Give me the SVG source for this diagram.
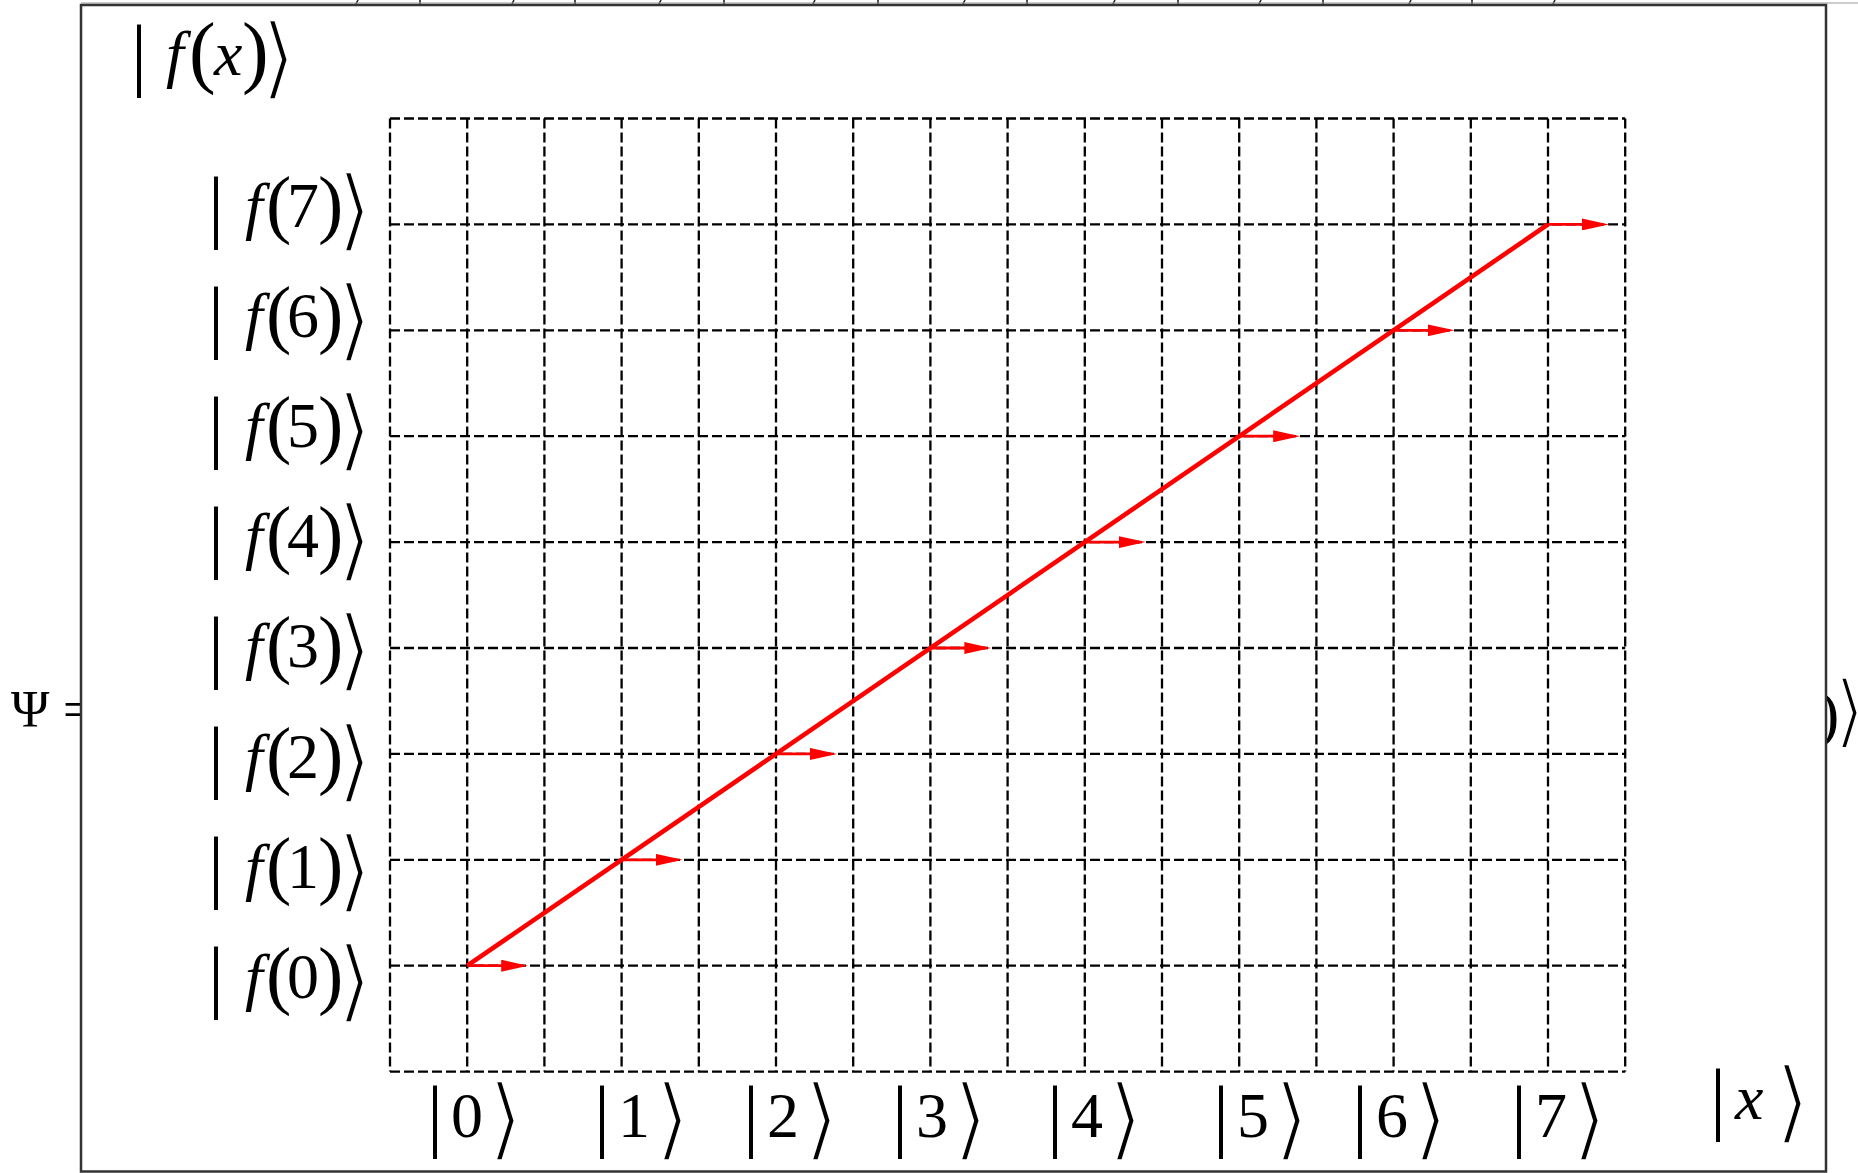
<svg xmlns="http://www.w3.org/2000/svg" width="1858" height="1173" viewBox="0 0 1858 1173">
<style>
.t{font-family:"Liberation Serif","Times New Roman",serif;fill:#000}
.i{font-style:italic}
.br{font-family:"Noto Sans CJK JP","DejaVu Sans",sans-serif;font-weight:300;stroke:#fff;stroke-width:3}
.g{stroke:#000;stroke-width:2.3;stroke-dasharray:10 4;fill:none}
.tick{stroke:#222;stroke-width:1.6}
.red{stroke:#ff0000;fill:none}
</style>
<defs>
<marker id="ah" markerWidth="27" markerHeight="12" refX="21" refY="6" orient="auto" markerUnits="userSpaceOnUse">
<path d="M0,0 L27,6 L0,12 Z" fill="#ff0000"/>
</marker>
</defs>
<rect x="0" y="0" width="1858" height="1173" fill="#fff"/>
<g id="psi">
<text class="t" font-size="52"><tspan x="11" y="727">Ψ</tspan><tspan x="63" y="727">=</tspan></text>
</g>
<g id="right-ket">
<text class="t" font-size="64"><tspan x="1818" y="735">)</tspan><tspan class="br" x="1833.5" y="738" font-size="80">⟩</tspan></text>
</g>
<g id="top-fragments">
<line class="tick" x1="358" y1="0" x2="356" y2="4"/>
<line class="tick" x1="420" y1="0" x2="420" y2="4"/>
<line class="tick" x1="514" y1="0" x2="512" y2="4"/>
<line class="tick" x1="575" y1="0" x2="575" y2="4"/>
<line class="tick" x1="661" y1="0" x2="659" y2="4"/>
<line class="tick" x1="724" y1="0" x2="724" y2="4"/>
<line class="tick" x1="815" y1="0" x2="813" y2="4"/>
<line class="tick" x1="878" y1="0" x2="878" y2="4"/>
<line class="tick" x1="965" y1="0" x2="963" y2="4"/>
<line class="tick" x1="1027" y1="0" x2="1027" y2="4"/>
<line class="tick" x1="1115" y1="0" x2="1113" y2="4"/>
<line class="tick" x1="1178" y1="0" x2="1178" y2="4"/>
<line class="tick" x1="1261" y1="0" x2="1259" y2="4"/>
<line class="tick" x1="1323" y1="0" x2="1323" y2="4"/>
<line class="tick" x1="1411" y1="0" x2="1409" y2="4"/>
<line class="tick" x1="1472" y1="0" x2="1472" y2="4"/>
<line class="tick" x1="1555" y1="0" x2="1553" y2="4"/>
<line x1="81" y1="3" x2="1858" y2="3" stroke="#999" stroke-width="1"/>
</g>
<g id="frame">
<rect x="81" y="5" width="1745" height="1166.5" fill="#fff" stroke="#333" stroke-width="2.5"/>
</g>
<g id="grid">
<path class="g" d="M390,118.5V1071.6M467.2,118.5V1071.6M544.4,118.5V1071.6M621.6,118.5V1071.6M698.8,118.5V1071.6M776,118.5V1071.6M853.2,118.5V1071.6M930.4,118.5V1071.6M1007.6,118.5V1071.6M1084.8,118.5V1071.6M1162,118.5V1071.6M1239.2,118.5V1071.6M1316.4,118.5V1071.6M1393.6,118.5V1071.6M1470.8,118.5V1071.6M1548,118.5V1071.6M1625.2,118.5V1071.6"/>
<path class="g" d="M390,118.5H1625.2M390,224.4H1625.2M390,330.3H1625.2M390,436.2H1625.2M390,542.1H1625.2M390,648H1625.2M390,753.9H1625.2M390,859.8H1625.2M390,965.7H1625.2M390,1071.6H1625.2"/>
</g>
<g id="connectors">
<line class="red" stroke-width="4.6" x1="467.2" y1="965.7" x2="1548" y2="224.4"/>
<g class="red" stroke-width="2.8" marker-end="url(#ah)">
<line x1="467.2" y1="965.7" x2="522.2" y2="965.7"/>
<line x1="621.6" y1="859.8" x2="676.6" y2="859.8"/>
<line x1="776" y1="753.9" x2="831" y2="753.9"/>
<line x1="930.4" y1="648" x2="985.4" y2="648"/>
<line x1="1084.8" y1="542.1" x2="1139.8" y2="542.1"/>
<line x1="1239.2" y1="436.2" x2="1294.2" y2="436.2"/>
<line x1="1393.6" y1="330.3" x2="1448.6" y2="330.3"/>
<line x1="1548" y1="224.4" x2="1603" y2="224.4"/>
</g>
</g>
<g id="label-fx">
<text class="t" font-size="64"><tspan x="131" y="80.6" font-size="80">|</tspan><tspan class="i" x="166" y="75">f</tspan><tspan x="189" y="78" font-size="80">(</tspan><tspan class="i" x="214" y="75">x</tspan><tspan x="242" y="78" font-size="80">)</tspan><tspan class="br" x="261" y="88" font-size="90">⟩</tspan></text>
</g>
<g id="label-x">
<text class="t" font-size="64"><tspan x="1710" y="1124.6" font-size="80">|</tspan><tspan class="i" x="1735" y="1119">x</tspan><tspan class="br" x="1775.3" y="1132" font-size="90">⟩</tspan></text>
</g>
<g id="label-f7"><text class="t" font-size="64"><tspan x="208" y="232.5" font-size="80">|</tspan><tspan class="i" x="245" y="227">f</tspan><tspan x="266" y="229" font-size="76">(</tspan><tspan x="287" y="227">7</tspan><tspan x="318" y="229" font-size="76">)</tspan><tspan class="br" x="337" y="240" font-size="90">⟩</tspan></text></g>
<g id="label-f6"><text class="t" font-size="64"><tspan x="208" y="342.6" font-size="80">|</tspan><tspan class="i" x="245" y="337.1">f</tspan><tspan x="266" y="339.1" font-size="76">(</tspan><tspan x="287" y="337.1">6</tspan><tspan x="318" y="339.1" font-size="76">)</tspan><tspan class="br" x="337" y="350.1" font-size="90">⟩</tspan></text></g>
<g id="label-f5"><text class="t" font-size="64"><tspan x="208" y="452.7" font-size="80">|</tspan><tspan class="i" x="245" y="447.2">f</tspan><tspan x="266" y="449.2" font-size="76">(</tspan><tspan x="287" y="447.2">5</tspan><tspan x="318" y="449.2" font-size="76">)</tspan><tspan class="br" x="337" y="460.2" font-size="90">⟩</tspan></text></g>
<g id="label-f4"><text class="t" font-size="64"><tspan x="208" y="562.8" font-size="80">|</tspan><tspan class="i" x="245" y="557.3">f</tspan><tspan x="266" y="559.3" font-size="76">(</tspan><tspan x="287" y="557.3">4</tspan><tspan x="318" y="559.3" font-size="76">)</tspan><tspan class="br" x="337" y="570.3" font-size="90">⟩</tspan></text></g>
<g id="label-f3"><text class="t" font-size="64"><tspan x="208" y="672.9" font-size="80">|</tspan><tspan class="i" x="245" y="667.4">f</tspan><tspan x="266" y="669.4" font-size="76">(</tspan><tspan x="287" y="667.4">3</tspan><tspan x="318" y="669.4" font-size="76">)</tspan><tspan class="br" x="337" y="680.4" font-size="90">⟩</tspan></text></g>
<g id="label-f2"><text class="t" font-size="64"><tspan x="208" y="783" font-size="80">|</tspan><tspan class="i" x="245" y="777.5">f</tspan><tspan x="266" y="779.5" font-size="76">(</tspan><tspan x="287" y="777.5">2</tspan><tspan x="318" y="779.5" font-size="76">)</tspan><tspan class="br" x="337" y="790.5" font-size="90">⟩</tspan></text></g>
<g id="label-f1"><text class="t" font-size="64"><tspan x="208" y="893.1" font-size="80">|</tspan><tspan class="i" x="245" y="887.6">f</tspan><tspan x="266" y="889.6" font-size="76">(</tspan><tspan x="287" y="887.6">1</tspan><tspan x="318" y="889.6" font-size="76">)</tspan><tspan class="br" x="337" y="900.6" font-size="90">⟩</tspan></text></g>
<g id="label-f0"><text class="t" font-size="64"><tspan x="208" y="1003.2" font-size="80">|</tspan><tspan class="i" x="245" y="997.7">f</tspan><tspan x="266" y="999.7" font-size="76">(</tspan><tspan x="287" y="997.7">0</tspan><tspan x="318" y="999.7" font-size="76">)</tspan><tspan class="br" x="337" y="1010.7" font-size="90">⟩</tspan></text></g>
<g id="label-x0"><text class="t" font-size="64"><tspan x="427" y="1141.6" font-size="80">|</tspan><tspan x="451" y="1137">0</tspan><tspan class="br" x="488.3" y="1149" font-size="90">⟩</tspan></text></g>
<g id="label-x1"><text class="t" font-size="64"><tspan x="594" y="1141.6" font-size="80">|</tspan><tspan x="618" y="1137">1</tspan><tspan class="br" x="655.3" y="1149" font-size="90">⟩</tspan></text></g>
<g id="label-x2"><text class="t" font-size="64"><tspan x="743" y="1141.6" font-size="80">|</tspan><tspan x="767" y="1137">2</tspan><tspan class="br" x="804.3" y="1149" font-size="90">⟩</tspan></text></g>
<g id="label-x3"><text class="t" font-size="64"><tspan x="892" y="1141.6" font-size="80">|</tspan><tspan x="916" y="1137">3</tspan><tspan class="br" x="953.3" y="1149" font-size="90">⟩</tspan></text></g>
<g id="label-x4"><text class="t" font-size="64"><tspan x="1047" y="1141.6" font-size="80">|</tspan><tspan x="1071" y="1137">4</tspan><tspan class="br" x="1108.3" y="1149" font-size="90">⟩</tspan></text></g>
<g id="label-x5"><text class="t" font-size="64"><tspan x="1213" y="1141.6" font-size="80">|</tspan><tspan x="1237" y="1137">5</tspan><tspan class="br" x="1274.3" y="1149" font-size="90">⟩</tspan></text></g>
<g id="label-x6"><text class="t" font-size="64"><tspan x="1352" y="1141.6" font-size="80">|</tspan><tspan x="1376" y="1137">6</tspan><tspan class="br" x="1413.3" y="1149" font-size="90">⟩</tspan></text></g>
<g id="label-x7"><text class="t" font-size="64"><tspan x="1511" y="1141.6" font-size="80">|</tspan><tspan x="1535" y="1137">7</tspan><tspan class="br" x="1572.3" y="1149" font-size="90">⟩</tspan></text></g>
</svg>
